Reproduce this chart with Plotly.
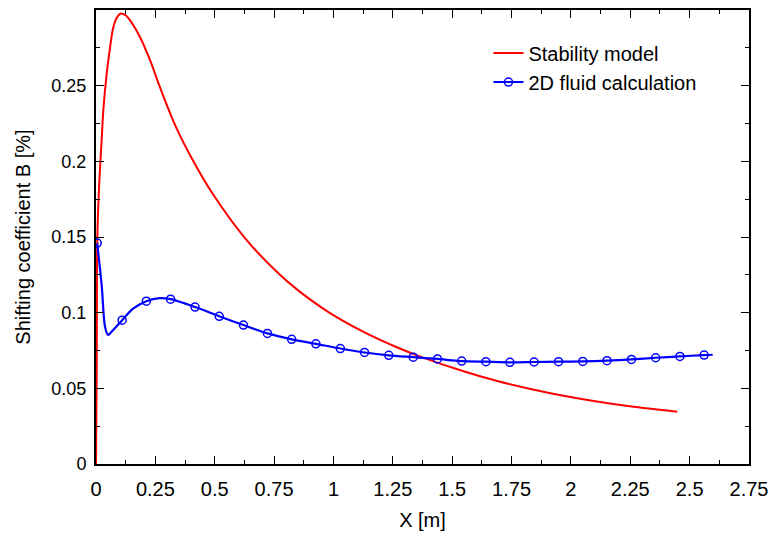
import plotly.graph_objects as go

# Stability model (red curve)
red_x = [0.0, 0.003, 0.0056, 0.0126, 0.024, 0.031, 0.045, 0.059, 0.072, 0.088, 0.105, 0.125,
         0.142, 0.184, 0.226, 0.268, 0.337, 0.406, 0.49, 0.63, 0.77, 0.854, 0.979, 1.133,
         1.272, 1.363, 1.551, 1.69, 1.83, 1.969, 2.109, 2.248, 2.448]
red_y = [0.0, 0.06, 0.149, 0.182, 0.2146, 0.234, 0.258, 0.275, 0.288, 0.295, 0.2977, 0.2965,
         0.2935, 0.2825, 0.2675, 0.2495, 0.2226, 0.2012, 0.1789, 0.1488, 0.1257, 0.1144, 0.1004,
         0.0868, 0.0768, 0.0711, 0.0611, 0.0548, 0.0495, 0.0451, 0.0413, 0.0381, 0.0345]

# 2D fluid calculation (blue line)
blue_x = [0.005, 0.024, 0.038, 0.051, 0.072, 0.11, 0.156, 0.212, 0.268, 0.314, 0.417, 0.519,
          0.621, 0.722, 0.824, 0.926, 1.029, 1.131, 1.233, 1.336, 1.438, 1.540, 1.642, 1.743,
          1.845, 1.948, 2.05, 2.152, 2.255, 2.357, 2.459, 2.561, 2.597]
blue_y = [0.146, 0.118, 0.0907, 0.0853, 0.0885, 0.095, 0.1026, 0.1076, 0.1096, 0.1089, 0.1037,
          0.0976, 0.0918, 0.0863, 0.0824, 0.0794, 0.0763, 0.0737, 0.0718, 0.0706, 0.0694, 0.068,
          0.0676, 0.0672, 0.0674, 0.0676, 0.0678, 0.0683, 0.0691, 0.0702, 0.0711, 0.072, 0.0722]

# 2D fluid calculation (circle markers)
mark_x = [0.005, 0.11, 0.212, 0.314, 0.417, 0.519, 0.621, 0.722, 0.824, 0.926, 1.029, 1.131,
          1.233, 1.336, 1.438, 1.540, 1.642, 1.743, 1.845, 1.948, 2.05, 2.152, 2.255, 2.357,
          2.459, 2.561]
mark_y = [0.146, 0.095, 0.1076, 0.1089, 0.1037, 0.0976, 0.0918, 0.0863, 0.0824, 0.0794, 0.0763,
          0.0737, 0.0718, 0.0706, 0.0694, 0.068, 0.0676, 0.0672, 0.0674, 0.0676, 0.0678, 0.0683,
          0.0691, 0.0702, 0.0711, 0.072]

x_ticks = [0, 0.25, 0.5, 0.75, 1, 1.25, 1.5, 1.75, 2, 2.25, 2.5, 2.75]
x_labels = ["0", "0.25", "0.5", "0.75", "1", "1.25", "1.5", "1.75", "2", "2.25", "2.5", "2.75"]
y_ticks = [0, 0.05, 0.1, 0.15, 0.2, 0.25]
y_labels = ["0", "0.05", "0.1", "0.15", "0.2", "0.25"]

RED = "#ff0000"
BLUE = "#0000ff"
FONT = "Liberation Sans, Arial, sans-serif"

fig = go.Figure()
fig.add_trace(go.Scatter(x=red_x, y=red_y, mode="lines", name="Stability model",
                         line=dict(color=RED, width=2, shape="spline", smoothing=1.0)))
fig.add_trace(go.Scatter(x=blue_x, y=blue_y, mode="lines", showlegend=False,
                         line=dict(color=BLUE, width=2.2, shape="spline", smoothing=0.8)))
fig.add_trace(go.Scatter(x=mark_x, y=mark_y, mode="markers", showlegend=False,
                         marker=dict(symbol="circle-open", size=8, color=BLUE,
                                     line=dict(width=1.5, color=BLUE))))
fig.add_trace(go.Scatter(x=[None], y=[None], mode="lines+markers", name="2D fluid calculation",
                         line=dict(color=BLUE, width=2),
                         marker=dict(symbol="circle-open", size=8, color=BLUE,
                                     line=dict(width=1.5, color=BLUE))))

axis_common = dict(showgrid=False, zeroline=False, showline=True, linecolor="black",
                   linewidth=2, mirror="ticks", ticks="inside", ticklen=8, tickwidth=1.2,
                   tickcolor="black")

fig.update_xaxes(range=[0, 2.75], tickvals=x_ticks, ticktext=x_labels,
                 tickfont=dict(family="Liberation Sans Narrow, " + FONT, size=20, color="black"),
                 ticklabelstandoff=6,
                 minor=dict(dtick=0.125, tick0=0, ticks="inside", ticklen=4, tickcolor="black",
                            tickwidth=1),
                 title=dict(text="X [m]", font=dict(family=FONT, size=20, color="black"),
                            standoff=14),
                 **axis_common)
fig.update_yaxes(range=[0, 0.3], tickvals=y_ticks, ticktext=y_labels,
                 tickfont=dict(family=FONT, size=18, color="black"),
                 ticklabelstandoff=4,
                 minor=dict(dtick=0.025, tick0=0, ticks="inside", ticklen=4, tickcolor="black",
                            tickwidth=1),
                 title=dict(text="Shifting coefficient B [%]",
                            font=dict(family=FONT, size=20, color="black"), standoff=15),
                 **axis_common)

fig.update_layout(
    width=776, height=536,
    margin=dict(l=96, r=23, t=8, b=67),
    plot_bgcolor="white", paper_bgcolor="white",
    font=dict(family=FONT, color="black"),
    legend=dict(x=0.601, y=0.948, xanchor="left", yanchor="top",
                bgcolor="rgba(0,0,0,0)", font=dict(family=FONT, size=20, color="black"),
                itemwidth=30),
)

fig.write_html("out.html")
